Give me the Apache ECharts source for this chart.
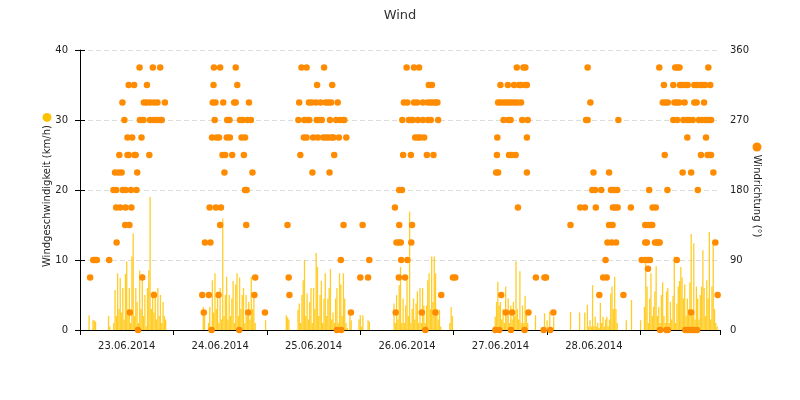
<!DOCTYPE html>
<html>
<head>
<meta charset="utf-8">
<script src="https://cdn.jsdelivr.net/npm/echarts@6/dist/echarts.min.js"></script>
<style>
    html, body { margin: 0; padding: 0; background: #fff; }
    #chart { width: 800px; height: 400px; }
</style>
</head>
<body>
<div id="chart"></div>
<script>
    // Tageslabels (zwischen den Mitternachts-Ticks)
    var dayLabels = ['23.06.2014', '24.06.2014', '25.06.2014', '26.06.2014', '27.06.2014', '28.06.2014'];

    // Windgeschwindigkeit km/h, alle 20 Minuten, pro Tag ab 00:00
    var speedDay1 = [0,0,0,0,0,0,0,2.1,0,0,1.4,1.4,1.2,0,0,0,0,0,0,0,0,0,2.0,0.5,0,0,
        1.0,5.7,2.0,8.1,3.0,7.4,2.5,6.0,1.5,8.0,9.8,3.0,6.0,1.0,10.5,13.8,2.0,6.0,4.0,1.0,8.5,3.0,8.0,2.0,
        5.0,0.5,6.0,8.5,19.0,3.0,5.5,2.5,5.5,1.5,6.0,2.0,5.0,1.0,4.0,2.0,1.5,0,0,0,0,0];
    var speedDay2 = [0,0,0,0,0,0,0,0,0,0,0,0,0,0,0,0,0,0,0,0,0,0,0,3.3,2.5,0,0,
        1.0,3.3,0.5,7.1,2.5,8.1,3.0,5.5,1.0,6.0,1.5,15.9,2.0,5.0,7.6,1.5,5.0,2.0,4.5,7.0,1.0,6.5,8.1,2.0,
        7.5,3.0,5.0,6.0,1.0,5.0,2.0,4.0,1.5,7.6,3.0,5.0,1.0,0,0,0,0,0,0,0,1.4];
    var speedDay3 = [0,0,0,0,0,0,0,0,0,0,0,0,0,0,0,2.1,1.8,1.5,0,0,0,0,0,0,
        2.9,3.8,1.0,5.0,7.1,10.0,2.0,5.2,1.5,4.0,6.0,1.0,6.0,3.0,11.0,9.0,2.0,5.0,7.0,1.0,4.5,8.1,2.0,4.5,
        6.0,8.7,1.5,2.5,1.0,4.5,6.0,1.0,8.1,6.5,2.0,8.1,4.5,1.0,0.3,0,2.1,1.4,0,0,0,0,0,1.5];
    var speedDay4 = [2.1,0.5,2.1,0,0,0,1.4,1.2,0,0,0,0,0,0,0,0,0,0,0,0,0,0,0,0,0,0,
        3.8,1.0,5.0,1.5,6.4,9.0,1.0,4.5,1.0,3.5,7.1,2.0,16.9,1.0,3.0,4.5,1.5,3.8,5.5,1.0,6.0,1.0,6.0,3.5,
        1.0,3.5,7.1,8.1,3.0,10.5,4.0,10.5,8.1,3.0,1.5,2.9,0.5,0,0,0,0,0,0,1.0,3.3,2.0];
    var speedDay5 = [0,0,0,0,0,0,0,0,0,0,0,0,0,0,0,0,0,0,0,0,0,0,0,0,0,0,0,0,0,0,0,
        0.5,1.9,4.0,6.9,3.5,4.0,1.5,3.0,1.0,6.2,2.0,4.5,1.0,3.5,1.5,4.0,2.0,9.8,3.0,1.5,8.4,1.0,3.5,1.0,
        4.9,2.5,1.0,0,0,0,0,0,2.1,0,0,0,0,0,0,2.4,0];
    var speedDay6 = [1.4,0,2.6,0,0,1.9,0,0,0,0,0,0,0,0,0,0,0,0,2.6,0,0,0,0,0,0,2.5,0,0,0,2.5,0,3.6,
        0.5,1.4,0.5,6.4,0.5,1.9,0.5,1.0,0.3,3.9,1.0,1.9,0.5,1.5,1.9,0.5,1.5,5.2,6.2,3.0,7.6,3.0,1.0,
        0,0,0,0,0,0,1.4,0,0,0,4.3,0,0,0,0,0,0];
    var speedDay7 = [1.4,0,0,3.3,10.0,6.2,1.0,4.5,8.1,2.0,3.3,5.5,9.1,2.0,3.3,1.0,5.0,6.8,2.0,1.0,
        5.5,6.0,1.0,4.0,1.5,4.9,10.5,1.0,3.8,6.2,7.0,9.0,7.5,4.5,6.5,2.0,4.5,3.0,6.8,13.7,2.0,12.4,
        1.5,6.2,4.5,1.5,5.0,6.2,11.4,6.0,2.0,7.1,4.5,14.0,1.5,6.2,12.9,3.0,1.0,0.5,0,0];

    // Windrichtung: [Stunden seit 23.06. 00:00, Grad]
    var dirDay1 = [[2.6,67.5],[3.4,90],[3.9,90],[4.3,90],[7.5,90],[8.6,180],[9.0,202.5],[9.3,157.5],[9.3,180],
        [9.4,112.5],[9.9,202.5],[10.1,225],[10.3,157.5],[10.7,202.5],[10.9,292.5],[11.0,180],[11.4,270],[11.6,135],
        [11.7,157.5],[11.7,180],[12.2,225],[12.2,247.5],[12.5,225],[12.5,315],[12.7,135],[12.8,22.5],[13.1,180],
        [13.2,157.5],[13.4,247.5],[13.9,315],[14.0,225],[14.3,225],[14.5,180],[14.7,202.5],[14.9,0],[15.3,337.5],
        [15.4,270],[15.8,247.5],[16.0,67.5],[16.3,270],[16.4,292.5],[17.1,292.5],[17.2,315],[17.8,225],[18.0,270],
        [18.0,292.5],[18.7,337.5],[18.8,270],[19.0,292.5],[19.0,45],[19.7,270],[19.9,292.5],[20.6,270],[20.6,337.5],
        [21.0,270],[21.8,292.5]];
    var dirDay2 = [[31.4,45],[31.8,22.5],[32.1,112.5],[33.1,45],[33.3,157.5],[33.5,112.5],[33.8,0],[33.9,247.5],
        [34.1,292.5],[34.3,315],[34.4,337.5],[34.6,270],[34.8,292.5],[34.9,157.5],[35.1,247.5],[35.6,45],[35.7,247.5],
        [36.0,337.5],[36.0,135],[36.2,157.5],[36.6,225],[36.8,292.5],[37.1,202.5],[37.3,225],[37.7,247.5],[37.8,270],
        [38.4,270],[38.5,247.5],[39.1,225],[39.6,292.5],[40.0,292.5],[40.0,337.5],[40.4,315],[40.9,0],[41.1,270],
        [41.5,247.5],[41.8,270],[42.1,225],[42.4,247.5],[42.4,180],[42.7,135],[42.8,180],[43.0,270],[43.2,22.5],
        [43.4,292.5],[43.9,270],[44.3,202.5],[44.8,45],[45.0,67.5],[47.5,22.5]];
    var dirDay3 = [[53.3,135],[53.6,67.5],[53.8,45],[56.1,270],[56.3,292.5],[56.6,225],[56.9,337.5],[57.5,247.5],
        [57.6,270],[58.2,337.5],[58.2,247.5],[58.3,270],[58.8,292.5],[58.9,270],[59.5,292.5],[59.7,202.5],[59.9,247.5],
        [60.6,292.5],[60.8,270],[60.9,315],[61.1,247.5],[61.5,270],[61.8,292.5],[62.1,270],[62.5,247.5],[62.7,337.5],
        [63.1,292.5],[63.2,247.5],[63.8,292.5],[63.9,247.5],[64.1,202.5],[64.2,270],[64.5,292.5],[64.7,247.5],
        [64.8,315],[65.1,247.5],[65.3,225],[65.8,270],[66.0,0],[66.2,292.5],[66.5,247.5],[66.8,270],[67.0,90],
        [67.1,0],[67.5,270],[67.7,135],[67.9,270],[68.4,247.5],[69.6,22.5]];
    var dirDay4 = [[72.0,67.5],[72.6,135],[74.0,67.5],[74.3,90],[80.9,157.5],[81.1,22.5],[81.3,112.5],[81.9,112.5],
        [81.9,67.5],[82.0,180],[82.0,135],[82.4,112.5],[82.5,90],[82.7,180],[82.8,270],[83.0,225],[83.2,292.5],
        [83.5,67.5],[83.9,337.5],[84.1,292.5],[84.1,90],[84.5,270],[85.0,270],[85.0,225],[85.1,112.5],[85.3,135],
        [85.5,270],[85.8,337.5],[85.8,292.5],[86.1,247.5],[86.6,292.5],[86.8,270],[86.8,247.5],[87.1,337.5],
        [87.4,247.5],[87.8,22.5],[88.1,292.5],[88.1,270],[88.4,247.5],[88.7,0],[89.1,225],[89.3,292.5],[89.4,270],
        [89.6,315],[90.0,292.5],[90.1,270],[90.4,315],[90.7,292.5],[90.8,225],[91.3,22.5],[91.4,292.5],[91.8,292.5],
        [92.0,270],[92.8,45],[95.8,67.5],[96.4,67.5]];
    var dirDay5 = [[106.7,0],[106.9,202.5],[107.1,225],[107.2,247.5],[107.4,202.5],[107.4,292.5],[107.7,0],
        [108.0,292.5],[108.0,315],[108.2,45],[108.8,292.5],[108.8,270],[109.4,22.5],[109.5,292.5],[109.9,315],
        [110.0,270],[110.2,292.5],[110.2,225],[110.6,270],[110.7,0],[110.9,292.5],[110.9,225],[111.0,22.5],
        [111.5,315],[111.7,292.5],[111.9,225],[112.2,337.5],[112.4,292.5],[112.5,157.5],[112.8,315],[113.3,315],
        [113.3,292.5],[113.6,270],[113.9,337.5],[114.2,0],[114.4,337.5],[114.4,315],[114.8,315],[114.8,247.5],
        [114.8,202.5],[115.0,270],[115.2,22.5],[117.1,67.5],[119.1,0],[119.3,67.5],[119.7,67.5],[120.8,0]];
    var dirDay6 = [[121.6,22.5],[126.0,135],[128.5,157.5],[129.7,157.5],[130.0,270],[130.4,270],[130.4,337.5],
        [131.1,292.5],[131.6,180],[131.9,202.5],[132.3,180],[132.5,157.5],[133.4,45],[133.9,180],[134.4,67.5],
        [135.0,90],[135.3,67.5],[135.5,112.5],[135.9,202.5],[135.9,135],[136.4,180],[136.6,112.5],[136.8,135],
        [136.9,180],[136.9,157.5],[137.5,180],[137.5,157.5],[137.7,112.5],[138.0,180],[138.1,157.5],[138.3,270],
        [139.6,45],[141.5,157.5]];
    var dirDay7 = [[144.3,90],[145.2,135],[145.2,112.5],[145.2,90],[145.6,112.5],[145.9,135],[145.9,90],
        [145.9,78.75],[146.2,180],[146.4,90],[146.5,135],[147.0,135],[147.1,157.5],[147.7,112.5],[147.9,157.5],
        [148.2,112.5],[148.6,112.5],[148.8,337.5],[148.9,112.5],[149.0,0],[149.7,292.5],[150.0,315],[150.2,225],
        [150.4,292.5],[150.6,0],[150.9,180],[151.0,292.5],[151.0,0],[152.4,315],[152.4,270],[152.7,292.5],
        [152.9,337.5],[153.3,292.5],[153.3,90],[153.4,270],[153.5,337.5],[153.9,292.5],[154.0,337.5],[154.1,315],
        [154.6,315],[154.8,202.5],[155.0,270],[155.3,292.5],[155.4,315],[155.5,0],[155.9,270],[156.0,247.5],
        [156.0,0],[156.1,315],[156.5,270],[156.5,0],[157.0,202.5],[157.0,22.5],[157.0,0],[157.4,270],[157.6,0],
        [157.8,315],[157.8,292.5],[158.0,0],[158.4,292.5],[158.5,315],[158.5,0],[158.7,180],[159.0,270],
        [159.4,315],[159.5,225],[159.7,270],[160.0,315],[160.3,292.5],[160.6,315],[160.6,270],[160.8,247.5],
        [161.2,225],[161.3,270],[161.4,337.5],[161.6,225],[161.9,315],[162.1,270],[162.1,225],[162.7,202.5],
        [163.2,112.5],[163.8,45]];

    var speedDays = [speedDay1, speedDay2, speedDay3, speedDay4, speedDay5, speedDay6, speedDay7];
    var speedData = [];
    speedDays.forEach(function (day, d) {
        day.forEach(function (v, i) {
            speedData.push([d * 24 + i / 3, v]);
        });
    });
    var dirData = [].concat(dirDay1, dirDay2, dirDay3, dirDay4, dirDay5, dirDay6, dirDay7);

    var fontName = 'DejaVu Sans';
    var xMax = 164.4;

    var chart = echarts.init(document.getElementById('chart'));
    chart.setOption({
        animation: false,
        textStyle: { fontFamily: fontName },
        title: {
            text: 'Wind',
            left: 'center',
            top: 4,
            textStyle: { fontFamily: fontName, fontSize: 13, fontWeight: 'normal', color: '#333' }
        },
        grid: { left: 80, right: 80, top: 50, bottom: 70 },
        xAxis: [
            {
                type: 'value',
                min: 0,
                max: xMax,
                interval: 12,
                position: 'bottom',
                axisLine: { show: true, lineStyle: { color: '#000', width: 1 } },
                axisTick: { show: false },
                splitLine: { show: false },
                axisLabel: {
                    margin: 11,
                    color: '#222',
                    fontSize: 10,
                    showMaxLabel: false,
                    formatter: function (v) {
                        if (v % 24 !== 12) return '';
                        var d = Math.floor(v / 24);
                        return dayLabels[d] || '';
                    }
                }
            },
            {
                type: 'value',
                min: 0,
                max: xMax,
                interval: 24,
                position: 'bottom',
                axisLine: { show: false },
                axisTick: { show: true, length: 5, lineStyle: { color: '#000' } },
                axisLabel: { show: false },
                splitLine: { show: false }
            }
        ],
        yAxis: [
            {
                type: 'value',
                min: 0,
                max: 40,
                interval: 10,
                position: 'left',
                name: 'Windgeschwindigkeit (km/h) {dot|}',
                nameLocation: 'middle',
                nameGap: 28,
                nameMoveOverlap: false,
                nameRotate: 90,
                nameTextStyle: {
                    fontFamily: fontName,
                    fontSize: 10,
                    color: '#222',
                    rich: {
                        dot: { width: 9, height: 9, borderRadius: 5, backgroundColor: '#fcc200' }
                    }
                },
                axisLine: { show: true, lineStyle: { color: '#000', width: 1 } },
                axisTick: { show: true, length: 5, lineStyle: { color: '#000' } },
                axisLabel: { color: '#222', fontSize: 10, margin: 12 },
                splitLine: { show: true, lineStyle: { color: '#dcdcdc', type: [5, 3], width: 1 } }
            },
            {
                type: 'value',
                min: 0,
                max: 360,
                interval: 90,
                position: 'right',
                name: '{dot|} Windrichtung (°)',
                nameLocation: 'middle',
                nameGap: 32,
                nameMoveOverlap: false,
                nameRotate: -90,
                nameTextStyle: {
                    fontFamily: fontName,
                    fontSize: 10,
                    color: '#222',
                    rich: {
                        dot: { width: 9, height: 9, borderRadius: 5, backgroundColor: '#ff8c00' }
                    }
                },
                axisLine: { show: false },
                axisTick: { show: true, length: 5, lineStyle: { color: '#000' } },
                axisLabel: { color: '#222', fontSize: 10, margin: 10 },
                splitLine: { show: false }
            }
        ],
        series: [
            {
                name: 'Windgeschwindigkeit',
                type: 'bar',
                xAxisIndex: 0,
                yAxisIndex: 0,
                barWidth: 1.3,
                data: speedData,
                itemStyle: { color: 'rgba(255, 196, 0, 0.85)' },
                z: 2
            },
            {
                name: 'Windrichtung',
                type: 'scatter',
                xAxisIndex: 0,
                yAxisIndex: 1,
                symbolSize: 6.5,
                data: dirData,
                itemStyle: { color: '#ff8c00', opacity: 1 },
                z: 3
            }
        ]
    });
</script>
</body>
</html>
